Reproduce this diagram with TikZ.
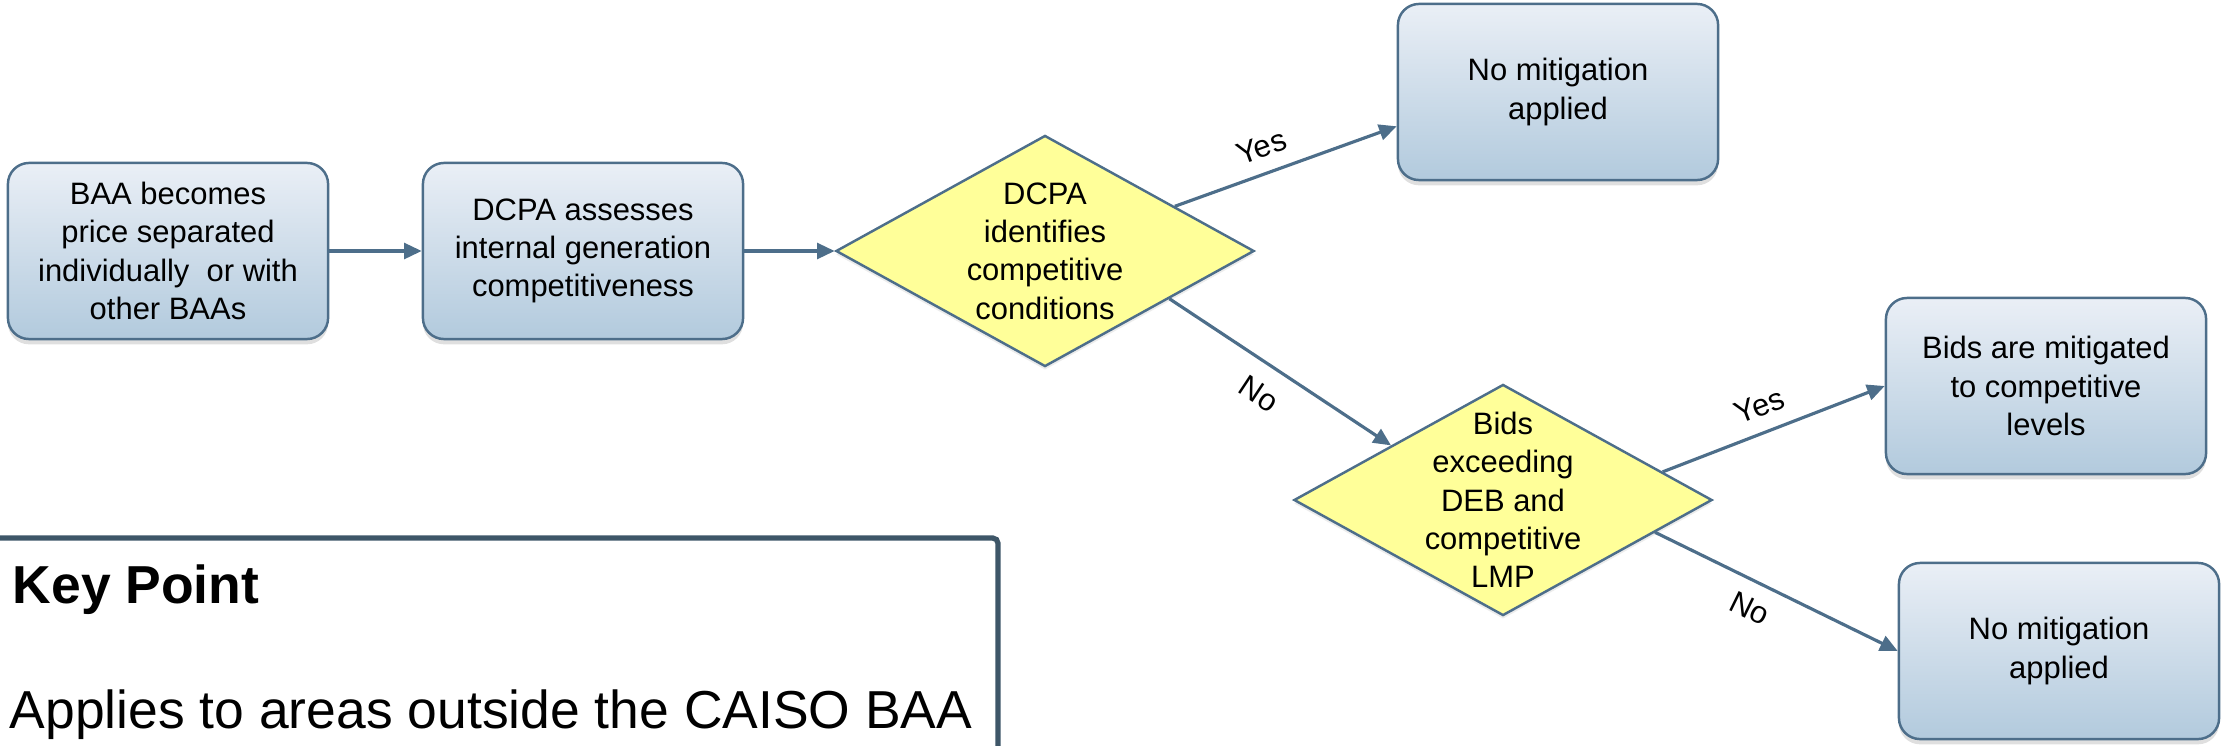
\documentclass[tikz,border=0pt]{standalone}
\usepackage{fontspec}
\setmainfont{Liberation Sans}
\usetikzlibrary{shapes.geometric,arrows.meta,shadows}
\definecolor{boxline}{RGB}{77,110,138}
\definecolor{boxtop}{RGB}{234,239,246}
\definecolor{boxbottom}{RGB}{178,202,221}
\definecolor{decfill}{RGB}{255,255,153}
\definecolor{keyline}{RGB}{62,86,104}
\begin{document}
\begin{tikzpicture}[x=0.01cm, y=-0.01cm,
  stepbox/.style={rectangle, rounded corners=6pt, draw=boxline, line width=0.7pt, top color=boxtop, bottom color=boxbottom, minimum width=3.2cm, minimum height=1.76cm, align=center, font=\fontsize{8.8}{10.9}\selectfont, drop shadow={shadow xshift=0pt, shadow yshift=-1.5pt, opacity=0.25}},
  decision/.style={diamond, draw=boxline, line width=0.7pt, fill=decfill, minimum width=4.18cm, minimum height=2.31cm, inner sep=0pt, drop shadow={shadow xshift=0pt, shadow yshift=-1pt, opacity=0.15}},
  dectext/.style={align=center, inner sep=0pt, font=\fontsize{8.8}{10.9}\selectfont},
  flow/.style={draw=boxline, line width=0.9pt, -{Triangle[length=5pt, width=4.5pt]}},
  answer/.style={sloped, inner sep=1pt, font=\fontsize{8.8}{10.9}\selectfont},
  keytext/.style={anchor=base west, inner sep=0pt, font=\fontsize{15.2}{18}\selectfont}]
\useasboundingbox (0,0) rectangle (2222,745);
\begin{scope}
\clip (0,0) rectangle (2222,745);
\draw[keyline, line width=1.5pt, rounded corners=1.5pt] (-30,538) rectangle (998,800);
\end{scope}
\node[keytext] (keyhead) at (12,603) {\bfseries Key Point};
\node[keytext] (keybody) at (9,728) {Applies to areas outside the CAISO BAA};
% flow chart
\node[stepbox] (baa) at (168,251) {BAA becomes\\price separated\\individually\ \ or with\\other BAAs};
\node[stepbox] (assess) at (583,251) {DCPA assesses\\internal generation\\competitiveness};
\node[decision] (compcond) at (1045,251) {};
\node[dectext] (compcondtxt) at (compcond) {DCPA\\identifies\\competitive\\conditions};
\node[stepbox] (nomit1) at (1558,92) {No mitigation\\applied};
\node[decision] (bidsdeb) at (1503,500) {};
\node[dectext] (bidsdebtxt) at (bidsdeb) {Bids\\exceeding\\DEB and\\competitive\\LMP};
\node[stepbox] (mitig) at (2046,386) {Bids are mitigated\\to competitive\\levels};
\node[stepbox] (nomit2) at (2059,651) {No mitigation\\applied};
\draw[flow] (baa) -- (assess);
\draw[flow] (assess) -- (compcond);
\draw[flow] (compcond.19) -- node[answer, pos=.43, above=3pt] (yes1) {Yes} (nomit1.192);
\draw[flow] (compcond.-21) -- node[answer, pos=.48, below=4pt] (no1) {No} (bidsdeb.154);
\draw[flow] (bidsdeb.10) -- node[answer, pos=.48, above=3pt] (yes2) {Yes} (mitig.west);
\draw[flow] (bidsdeb.-12) -- node[answer, pos=.44, below=3pt] (no2) {No} (nomit2.west);
\end{tikzpicture}
\end{document}
